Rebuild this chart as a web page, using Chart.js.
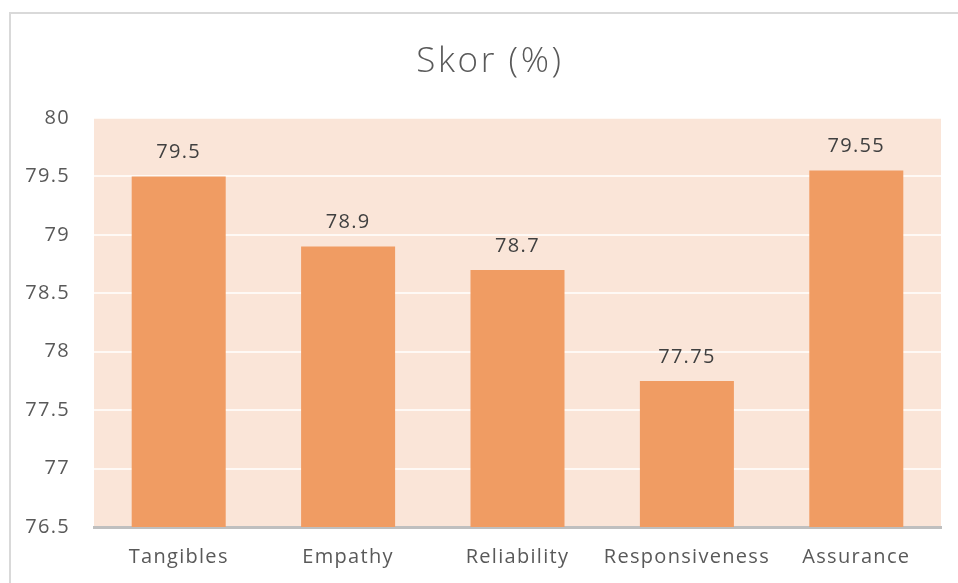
<!DOCTYPE html>
<html>
<head>
<meta charset="utf-8">
<script src="https://cdn.jsdelivr.net/npm/chart.js@4.4.0/dist/chart.umd.min.js"></script>
<style>
  html, body { margin: 0; padding: 0; background: #fff; }
  #wrap { width: 958px; height: 583px; }
</style>
</head>
<body>
<div id="wrap"><canvas id="chart" width="958" height="583"></canvas></div>
<script>
// chart data
const categories = ['Tangibles', 'Empathy', 'Reliability', 'Responsiveness', 'Assurance'];
const scores = [79.5, 78.9, 78.7, 77.75, 79.55];
const yTicks = [76.5, 77, 77.5, 78, 78.5, 79, 79.5, 80];
const chartTitle = 'Skor (%)';

const textColor = '#595959';
const fontFamily = "'Open Sans', 'Noto Sans', sans-serif";
const spacing = '1.3px';

// wider tracking like the original
const tracking = {
    id: 'tracking',
    beforeLayout(chart) { chart.ctx.letterSpacing = spacing; },
    beforeDraw(chart) { chart.ctx.letterSpacing = spacing; }
};

// frame lines, peach plot background and the title
const backdrop = {
    id: 'backdrop',
    beforeDraw(chart) {
        const { ctx, chartArea } = chart;
        ctx.save();
        ctx.fillStyle = '#FAE5D8';
        ctx.fillRect(chartArea.left, chartArea.top, chartArea.right - chartArea.left, chartArea.bottom - chartArea.top);
        ctx.strokeStyle = '#D9D9D9';
        ctx.lineWidth = 2;
        ctx.beginPath();
        ctx.moveTo(10, chart.height);
        ctx.lineTo(10, 13);
        ctx.lineTo(chart.width, 13);
        ctx.stroke();

        ctx.letterSpacing = '2.6px';
        ctx.fillStyle = textColor;
        ctx.font = '300 35px ' + fontFamily;
        ctx.textAlign = 'center';
        ctx.textBaseline = 'middle';
        ctx.fillText(chartTitle, 490, 62);
        ctx.restore();
    }
};

// value labels above each bar
const valueLabels = {
    id: 'valueLabels',
    afterDatasetsDraw(chart) {
        const { ctx } = chart;
        const meta = chart.getDatasetMeta(0);
        ctx.save();
        ctx.fillStyle = '#404040';
        ctx.font = '20px ' + fontFamily;
        ctx.textAlign = 'center';
        ctx.textBaseline = 'middle';
        meta.data.forEach((bar, i) => {
            ctx.fillText(String(scores[i]), bar.x, bar.y - 24);
        });
        ctx.restore();
    }
};

new Chart(document.getElementById('chart'), {
    type: 'bar',
    data: {
        labels: categories,
        datasets: [{
            label: chartTitle,
            data: scores,
            backgroundColor: '#F09C63',
            borderWidth: 0,
            categoryPercentage: 1,
            barPercentage: 0.555
        }]
    },
    options: {
        responsive: false,
        animation: false,
        layout: {
            padding: { left: 10, right: 17, top: 118, bottom: 14 }
        },
        plugins: {
            legend: { display: false },
            tooltip: { enabled: false },
            title: { display: false }
        },
        scales: {
            x: {
                grid: { display: false, drawTicks: false },
                border: { display: true, color: '#BFBFBF', width: 3 },
                afterFit(scale) {
                    scale.height = 42;
                },
                ticks: {
                    color: textColor,
                    padding: 18,
                    maxRotation: 0,
                    minRotation: 0,
                    autoSkip: false,
                    font: { family: fontFamily, size: 20 }
                }
            },
            y: {
                min: yTicks[0],
                max: yTicks[yTicks.length - 1],
                afterBuildTicks(scale) {
                    scale.ticks = yTicks.map(v => ({ value: v }));
                },
                afterFit(scale) {
                    scale.width = 84;
                },
                grid: {
                    color: 'rgba(255, 255, 255, 0.75)',
                    lineWidth: 2,
                    drawTicks: false
                },
                border: { display: false },
                ticks: {
                    color: textColor,
                    padding: 24,
                    font: { family: fontFamily, size: 20 },
                    callback: v => String(v)
                }
            }
        }
    },
    plugins: [tracking, backdrop, valueLabels]
});
</script>
</body>
</html>
